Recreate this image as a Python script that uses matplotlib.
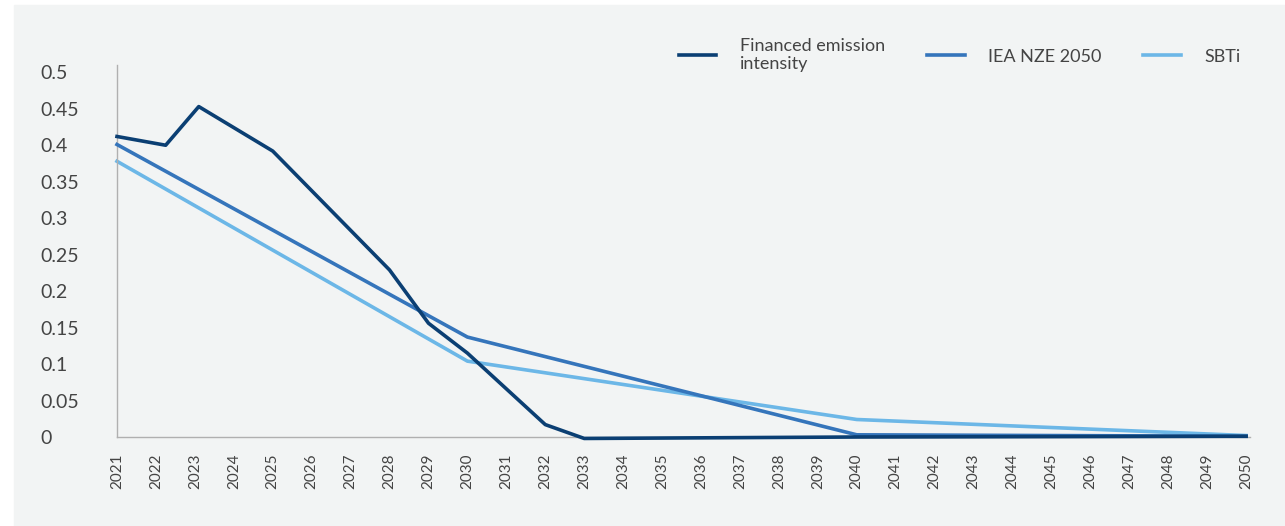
import matplotlib.pyplot as plt
from matplotlib.patches import Rectangle

# Emission intensity pathways (tCO2e per unit), read per year
financed_years = [2021, 2022.25, 2023.1, 2025, 2028, 2029, 2030, 2032, 2033, 2040, 2050]
financed_values = [0.412, 0.400, 0.453, 0.392, 0.229, 0.156, 0.115, 0.017, -0.002, 0.0, 0.001]

iea_years = [2021, 2030, 2040, 2050]
iea_values = [0.401, 0.137, 0.003, 0.001]

sbti_years = [2021, 2030, 2040, 2050]
sbti_values = [0.378, 0.104, 0.024, 0.002]

tick_years = list(range(2021, 2051))
y_ticks = [0, 0.05, 0.1, 0.15, 0.2, 0.25, 0.3, 0.35, 0.4, 0.45, 0.5]
y_labels = ["0", "0.05", "0.1", "0.15", "0.2", "0.25", "0.3", "0.35", "0.4", "0.45", "0.5"]

NAVY = "#0b3f73"
MID_BLUE = "#3575bb"
LIGHT_BLUE = "#6cb7e7"
BG = "#f2f4f4"
TEXT = "#444444"

plt.rcParams["font.family"] = ["Lato", "DejaVu Sans"]

fig = plt.figure(figsize=(12.85, 5.26), dpi=100, facecolor="white")
fig.patches.append(Rectangle((14 / 1285, 0), 1, 1 - 5 / 526,
                             transform=fig.transFigure, color=BG, zorder=-5))

ax = fig.add_axes([117 / 1285, 89 / 526, (1250 - 117) / 1285, (437 - 65) / 526])
ax.set_facecolor(BG)

lw = 2.6
ax.plot(financed_years, financed_values, color=NAVY, lw=lw,
        label="Financed emission\nintensity", zorder=4, clip_on=False)
ax.plot(iea_years, iea_values, color=MID_BLUE, lw=lw, label="IEA NZE 2050",
        zorder=3, clip_on=False)
ax.plot(sbti_years, sbti_values, color=LIGHT_BLUE, lw=lw, label="SBTi",
        zorder=2, clip_on=False)

ax.set_xlim(2021, 2050.1)
ax.set_ylim(0, 0.51)
ax.set_xticks(tick_years)
ax.set_xticklabels([str(y) for y in tick_years], rotation=90, fontsize=11, color=TEXT)
ax.set_yticks(y_ticks)
ax.set_yticklabels(y_labels, fontsize=14, color=TEXT, ha="left")
ax.tick_params(axis="both", length=0)
ax.tick_params(axis="x", pad=12)
# left-aligned y labels starting ~77 px left of the axis
ax.tick_params(axis="y", pad=77 * 72 / 100)

for side in ("top", "right"):
    ax.spines[side].set_visible(False)
for side in ("left", "bottom"):
    ax.spines[side].set_color("#b0b0b0")
    ax.spines[side].set_linewidth(1.0)

leg = ax.legend(loc="upper right", bbox_to_anchor=(1.006, 1.117), ncol=3,
                frameon=False, fontsize=13, handlelength=2.1,
                handletextpad=1.3, columnspacing=2.3)
for txt in leg.get_texts():
    txt.set_color(TEXT)

fig.savefig("out.png", dpi=100, facecolor=fig.get_facecolor())
